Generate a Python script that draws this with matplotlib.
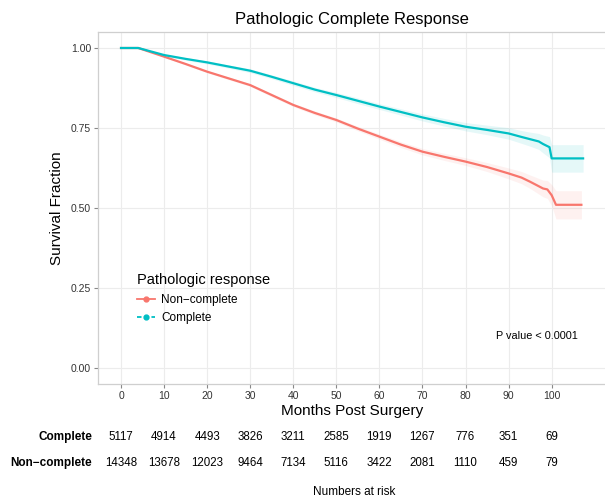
import matplotlib
matplotlib.use('Agg')
import matplotlib.pyplot as plt
from matplotlib.lines import Line2D
from matplotlib.transforms import blended_transform_factory

plt.rcParams['font.family'] = ['Liberation Sans', 'DejaVu Sans']

# Kaplan-Meier estimates
complete_t = [0, 4, 10, 15, 20, 25, 30, 35, 40, 45, 50, 55, 60, 65, 70, 75, 80, 85, 90, 93, 95, 97, 98, 99.5, 100, 107.3]
complete_s = [1.0, 1.0, 0.978, 0.966, 0.955, 0.942, 0.929, 0.91, 0.89, 0.87, 0.853, 0.835, 0.817, 0.80,
              0.783, 0.768, 0.754, 0.744, 0.733, 0.722, 0.715, 0.708, 0.70, 0.69, 0.655, 0.655]
complete_ci = [0, 0, 0.003, 0.004, 0.005, 0.005, 0.006, 0.006, 0.007, 0.007, 0.008, 0.009, 0.009, 0.01,
               0.011, 0.012, 0.013, 0.015, 0.018, 0.02, 0.022, 0.025, 0.028, 0.033, 0.043, 0.043]

noncomplete_t = [0, 4, 10, 15, 20, 25, 30, 35, 40, 45, 50, 55, 60, 65, 70, 75, 80, 85, 90, 93, 95, 98, 99, 100, 101, 106.9]
noncomplete_s = [1.0, 1.0, 0.973, 0.95, 0.926, 0.905, 0.884, 0.853, 0.822, 0.797, 0.775, 0.748, 0.723, 0.698,
                 0.676, 0.66, 0.645, 0.628, 0.608, 0.595, 0.582, 0.561, 0.558, 0.54, 0.51, 0.51]
noncomplete_ci = [0, 0, 0.002, 0.003, 0.003, 0.004, 0.004, 0.005, 0.005, 0.006, 0.006, 0.007, 0.008, 0.009,
                  0.01, 0.011, 0.012, 0.014, 0.017, 0.019, 0.021, 0.026, 0.028, 0.033, 0.044, 0.044]

risk_times = [0, 10, 20, 30, 40, 50, 60, 70, 80, 90, 100]
risk_complete = [5117, 4914, 4493, 3826, 3211, 2585, 1919, 1267, 776, 351, 69]
risk_noncomplete = [14348, 13678, 12023, 9464, 7134, 5116, 3422, 2081, 1110, 459, 79]

red = '#F8766D'
teal = '#00BFC4'

fig = plt.figure(figsize=(6.05, 5), dpi=100)
ax = fig.add_axes([98 / 605, 1 - 384 / 500, 507.5 / 605, 352 / 500])

lo = [s - c for s, c in zip(noncomplete_s, noncomplete_ci)]
hi = [s + c for s, c in zip(noncomplete_s, noncomplete_ci)]
ax.fill_between(noncomplete_t, lo, hi, color=red, alpha=0.1, lw=0)
lo = [s - c for s, c in zip(complete_s, complete_ci)]
hi = [s + c for s, c in zip(complete_s, complete_ci)]
ax.fill_between(complete_t, lo, hi, color=teal, alpha=0.1, lw=0)

ax.plot(noncomplete_t, noncomplete_s, color=red, lw=1.6)
ax.plot(complete_t, complete_s, color=teal, lw=1.6)

ax.set_xlim(-5.35, 112.5)
ax.set_ylim(-0.05, 1.05)
ax.set_xticks(risk_times)
ax.set_yticks([0, 0.25, 0.5, 0.75, 1.0])
ax.set_yticklabels(['0.00', '0.25', '0.50', '0.75', '1.00'])
ax.grid(True, color='#ececec', lw=0.8)
ax.set_axisbelow(True)
for side in ['top', 'bottom', 'left']:
    ax.spines[side].set_color('#cfcfcf')
    ax.spines[side].set_linewidth(0.9)
ax.spines['right'].set_visible(False)
ax.tick_params(axis='x', length=3, width=0.8, color='#888888', labelsize=7.5, labelcolor='#333333', pad=2)
ax.tick_params(axis='y', length=3, width=0.8, color='#888888', labelsize=7.5, labelcolor='#333333', pad=2)

ax.set_title('Pathologic Complete Response', fontsize=12, pad=6)
ax.set_xlabel('Months Post Surgery', fontsize=11, va='center')
ax.xaxis.set_label_coords(0.5, -0.077)
ax.set_ylabel('Survival Fraction', fontsize=11, va='center')
ax.yaxis.set_label_coords((57 - 98) / 507.5, 0.5)

ax.text(96.6, 0.1, 'P value < 0.0001', fontsize=7.8, ha='center', va='center')

handles = [Line2D([], [], color=red, lw=1.3, marker='o', ms=3.5),
           Line2D([], [], color=teal, lw=1.3, ls=(0, (2.5, 1.5)), marker='o', ms=3.5)]
leg = ax.legend(handles, ['Non\u2212complete', 'Complete'], title='Pathologic response',
                loc='upper left', bbox_to_anchor=(0.055, 0.345), frameon=False, fontsize=8.5,
                title_fontsize=10.5, handlelength=1.6, handletextpad=0.5, labelspacing=0.55,
                alignment='left')

tr = blended_transform_factory(ax.transData, fig.transFigure)
for t, c, n in zip(risk_times, risk_complete, risk_noncomplete):
    ax.text(t, 1 - 437 / 500, str(c), transform=tr, ha='center', va='center', fontsize=8.3, clip_on=False)
    ax.text(t, 1 - 463 / 500, str(n), transform=tr, ha='center', va='center', fontsize=8.3, clip_on=False)
fig.text(92 / 605, 1 - 437 / 500, 'Complete', ha='right', va='center', fontsize=8.5, fontweight='bold')
fig.text(92 / 605, 1 - 463 / 500, 'Non\u2212complete', ha='right', va='center', fontsize=8.5, fontweight='bold')
fig.text(354 / 605, 1 - 492 / 500, 'Numbers at risk', ha='center', va='center', fontsize=8.5)

fig.savefig('out.png', dpi=100)
